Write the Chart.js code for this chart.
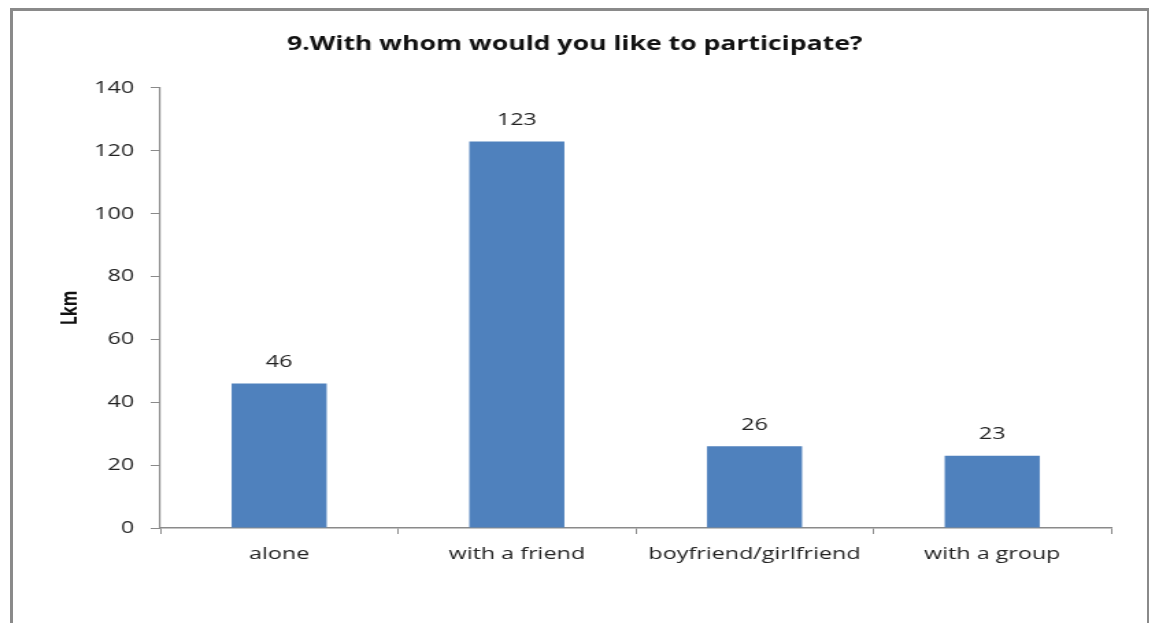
<!DOCTYPE html>
<html>
<head>
<meta charset="utf-8">
<script src="https://cdn.jsdelivr.net/npm/chart.js@4"></script>
<style>
  html, body { margin: 0; padding: 0; background: #fff; overflow: hidden; }
  #frame { position: absolute; left: 10px; top: 8px; width: 1134px; height: 640px; border: 3px solid #8a8a8a; border-bottom: none; }
  /* the source picture is stretched sideways, so the chart is drawn narrower and widened */
  #wrap { position: absolute; left: 0; top: 0; width: 839px; height: 623px; transform: scaleX(1.37); transform-origin: 0 0; }
</style>
</head>
<body>
<div id="frame"></div>
<div id="wrap"><canvas id="barchart"></canvas></div>
<script>
const categories = ['alone', 'with a friend', 'boyfriend/girlfriend', 'with a group'];
const counts = [46, 123, 26, 23];
const yTicks = [0, 20, 40, 60, 80, 100, 120, 140];

// values written above the bars
const barValues = {
  id: 'barValues',
  afterDatasetsDraw(chart) {
    const c = chart.ctx;
    const meta = chart.getDatasetMeta(0);
    c.save();
    c.font = '17px "Open Sans"';
    c.fillStyle = '#222';
    c.textAlign = 'center';
    c.textBaseline = 'bottom';
    meta.data.forEach((bar, i) => {
      c.fillText(counts[i], bar.x, bar.y - 13);
    });
    c.restore();
  }
};

const ctx = document.getElementById('barchart').getContext('2d');
const barchart = new Chart(ctx, {
  type: 'bar',
  data: {
    labels: categories,
    datasets: [{
      label: 'Lkm',
      data: counts,
      backgroundColor: '#4f81bd',
      barPercentage: 0.4,
      categoryPercentage: 1
    }]
  },
  options: {
    responsive: true,
    maintainAspectRatio: false,
    animation: false,
    layout: { padding: { left: 28, right: 28, top: 0, bottom: 0 } },
    plugins: {
      legend: { display: false },
      tooltip: { enabled: false },
      title: {
        display: true,
        text: '9.With whom would you like to participate?',
        color: '#111',
        font: { family: 'Open Sans', size: 19.4, weight: 'bold', lineHeight: 1.2 },
        padding: { top: 33, bottom: 31.7 }
      }
    },
    scales: {
      x: {
        grid: { drawOnChartArea: false, tickLength: 6, color: '#8a8a8a' },
        border: { color: '#8a8a8a', width: 1.5 },
        ticks: { color: '#222', font: { family: 'Open Sans', size: 17 }, padding: 10, maxRotation: 0 },
        afterFit(scale) { scale.height = 95; }
      },
      y: {
        min: 0,
        max: 140,
        afterBuildTicks(scale) { scale.ticks = yTicks.map(v => ({ value: v })); },
        grid: { drawOnChartArea: false, tickLength: 7, color: '#8a8a8a' },
        border: { color: '#8a8a8a', width: 1.2 },
        ticks: { color: '#222', font: { family: 'Open Sans', size: 17 }, padding: 12 },
        title: {
          display: true,
          text: 'Lkm',
          color: '#111',
          font: { family: 'Open Sans', size: 16, weight: 'bold', lineHeight: 1.2 },
          padding: { top: 13.5, bottom: 0 }
        },
        afterFit(scale) { scale.width = 89; }
      }
    }
  },
  plugins: [barValues]
});
</script>
</body>
</html>
